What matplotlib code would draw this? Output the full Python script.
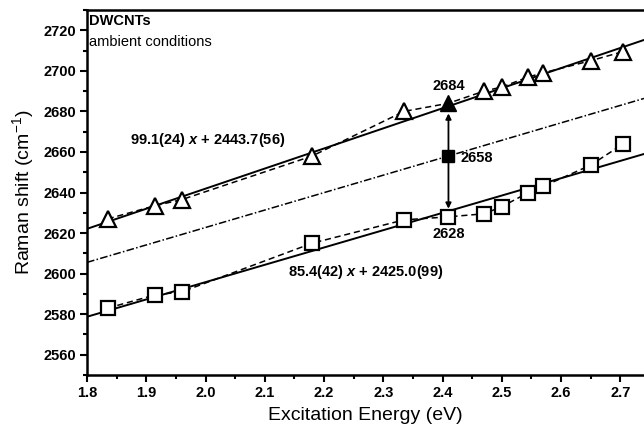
import numpy as np
import matplotlib.pyplot as plt
from matplotlib.ticker import MultipleLocator

plt.rcParams['font.family'] = ['Liberation Sans', 'DejaVu Sans']
plt.rcParams['mathtext.fontset'] = 'custom'
plt.rcParams['mathtext.rm'] = 'Liberation Sans'
plt.rcParams['mathtext.it'] = 'Liberation Sans:italic:bold'

# excitation energies (eV)
energy = [1.835, 1.915, 1.96, 2.18, 2.335, 2.41, 2.47, 2.50, 2.545, 2.57, 2.65, 2.705]
# outer-tube (upper) and inner-tube (lower) 2D band positions (cm^-1)
upper = [2627, 2633.5, 2636.5, 2658, 2680, 2684, 2690, 2692, 2697, 2699, 2705, 2709.5]
lower = [2583, 2589.5, 2591, 2615, 2626.5, 2628, 2629.5, 2633, 2640, 2643, 2653.5, 2664]

# linear fits
fit_upper = (99.1, 2443.7)
fit_lower = (85.4, 2425.0)
mid_slope = 86.0

e_mark = 2.41
y_top, y_mid, y_bot = 2684, 2658, 2628

fig = plt.figure(figsize=(6.44, 4.37), dpi=100)
ax = fig.add_axes([87 / 644, 62 / 437, 557 / 644, 365 / 437])

xs = np.array([1.8, 2.74])
ax.plot(xs, fit_upper[0] * xs + fit_upper[1], color='black', lw=1.4)
ax.plot(xs, fit_lower[0] * xs + fit_lower[1], color='black', lw=1.4)
ax.plot(xs, y_mid + mid_slope * (xs - e_mark), color='black', lw=1.1,
        dashes=(5, 1.5, 1, 1.5))

# data points joined by dashed lines, the 2.41 eV point drawn filled
open_idx = [i for i, e in enumerate(energy) if e != e_mark]
ax.plot(energy, upper, color='black', lw=1.1, ls=(0, (4, 2.5)))
ax.plot(energy, lower, color='black', lw=1.1, ls=(0, (4, 2.5)))
ax.plot([energy[i] for i in open_idx], [upper[i] for i in open_idx], ls='none',
        marker='^', ms=12, mfc='white', mec='black', mew=1.6)
ax.plot([energy[i] for i in open_idx], [lower[i] for i in open_idx], ls='none',
        marker='s', ms=9.5, mfc='white', mec='black', mew=1.6)
ax.plot([e_mark], [y_top], ls='none', marker='^', ms=12, color='black')
ax.plot([e_mark], [y_bot], ls='none', marker='s', ms=9.5, mfc='white', mec='black', mew=1.6)

# double arrow between the two bands
ax.annotate('', xy=(e_mark, y_bot + 4), xytext=(e_mark, y_top - 5),
            arrowprops=dict(arrowstyle='<|-|>', color='black', lw=1.3,
                            mutation_scale=8, shrinkA=0, shrinkB=0))
ax.plot([e_mark], [y_mid], ls='none', marker='s', ms=9, color='black')

fs = 10.5
ax.text(e_mark, y_top + 5, str(y_top), ha='center', va='bottom', fontsize=fs, fontweight='bold')
ax.text(e_mark + 0.02, y_mid - 1, str(y_mid), ha='left', va='center', fontsize=fs, fontweight='bold')
ax.text(e_mark, y_bot - 5, str(y_bot), ha='center', va='top', fontsize=fs, fontweight='bold')

ax.text(1.872, 2666, r'99.1(24) $x$ + 2443.7(56)', fontsize=fs, fontweight='bold',
        ha='left', va='center')
ax.text(2.14, 2601, r'85.4(42) $x$ + 2425.0(99)', fontsize=fs, fontweight='bold',
        ha='left', va='center')
ax.text(1.804, 2728, 'DWCNTs', fontsize=10.5, fontweight='bold', ha='left', va='top')
ax.text(1.804, 2717.5, 'ambient conditions', fontsize=10.5, ha='left', va='top')

ax.set_xlim(1.8, 2.74)
ax.set_ylim(2550, 2730)
ax.xaxis.set_major_locator(MultipleLocator(0.1))
ax.xaxis.set_minor_locator(MultipleLocator(0.05))
ax.yaxis.set_minor_locator(MultipleLocator(10))
ax.set_yticks(np.arange(2560, 2721, 20))
ax.tick_params(which='major', direction='out', length=5, width=1.5, labelsize=10.5, pad=3)
ax.tick_params(which='minor', direction='out', length=3, width=1.5)
for lab in ax.get_xticklabels() + ax.get_yticklabels():
    lab.set_fontweight('bold')

for side in ['left', 'bottom', 'top']:
    ax.spines[side].set_linewidth(1.8)
ax.spines['right'].set_visible(False)

ax.set_xlabel('Excitation Energy (eV)', fontsize=14, labelpad=5)
ax.set_ylabel('Raman shift (cm$^{\\mathregular{-1}}$)', fontsize=14, labelpad=5)

fig.savefig('out.png', dpi=100)
